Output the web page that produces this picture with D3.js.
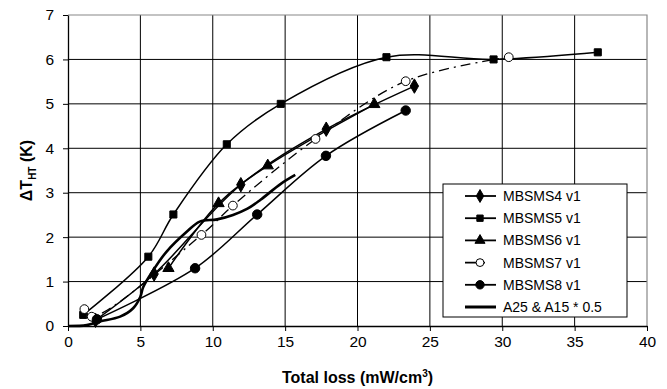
<!DOCTYPE html>
<html>
<head>
<meta charset="utf-8">
<script src="https://cdn.jsdelivr.net/npm/d3@7"></script>
<style>
  body { margin: 0; background: #fff; }
  text { font-family: Arial, "Liberation Sans", sans-serif; }
</style>
</head>
<body>
<div id="chart"></div>
<script>
'use strict';

// tick values
var xTicks = [0, 5, 10, 15, 20, 25, 30, 35, 40];
var yTicks = [0, 1, 2, 3, 4, 5, 6, 7];

// series
var ms4X = [1.9, 5.95, 11.94, 17.84, 23.93];
var ms4Y = [0.13, 1.17, 3.18, 4.43, 5.40];

var ms5X = [1.05, 5.55, 7.28, 10.97, 14.7, 22.0, 29.4, 36.6];
var ms5Y = [0.25, 1.56, 2.51, 4.09, 5.0, 6.05, 6.0, 6.16];

var ms6X = [6.94, 10.4, 13.8, 21.16];
var ms6Y = [1.30, 2.76, 3.61, 4.99];

var ms7X = [1.13, 1.64, 9.22, 11.39, 17.1, 23.33, 30.45];
var ms7Y = [0.38, 0.21, 2.05, 2.71, 4.21, 5.51, 6.05];

var ms8X = [2.0, 8.78, 13.07, 17.82, 23.33];
var ms8Y = [0.15, 1.30, 2.51, 3.83, 4.85];

var aX = [0, 1.3, 2.2, 3.6, 4.5, 5.0, 5.2, 5.9, 6.8, 8.2, 9.1, 10.3, 11.4, 12.4, 13.3, 14.7, 15.7];
var aY = [0, 0.02, 0.1, 0.21, 0.40, 0.66, 0.88, 1.26, 1.67, 2.12, 2.35, 2.40, 2.50, 2.64, 2.84, 3.2, 3.40];

var seriesNames = ['MBSMS4 v1', 'MBSMS5 v1', 'MBSMS6 v1', 'MBSMS7 v1', 'MBSMS8 v1', 'A25 & A15 * 0.5'];

function zip(xs, ys){
  return xs.map(function(x, i){ return {x: x, y: ys[i]}; });
}

var series = [
  {name: seriesNames[0], data: zip(ms4X, ms4Y), symbol: d3.symbolDiamond, size: 60, fill: '#000', dash: null, width: 1.5},
  {name: seriesNames[1], data: zip(ms5X, ms5Y), symbol: d3.symbolSquare, size: 50, fill: '#000', dash: null, width: 1.5},
  {name: seriesNames[2], data: zip(ms6X, ms6Y), symbol: d3.symbolTriangle, size: 55, fill: '#000', dash: null, width: 1.5},
  {name: seriesNames[3], data: zip(ms7X, ms7Y), symbol: d3.symbolCircle, size: 60, fill: '#fff', dash: '10,5,2,5', width: 1.3},
  {name: seriesNames[4], data: zip(ms8X, ms8Y), symbol: d3.symbolCircle, size: 70, fill: '#000', dash: null, width: 1.5},
  {name: seriesNames[5], data: zip(aX, aY), symbol: null, size: 0, fill: null, dash: null, width: 2.6}
];

// layout
var outerWidth = 667;
var outerHeight = 389;
var plotLeft = 68, plotRight = 647, plotTop = 15, plotBottom = 326;

var svg = d3.select('#chart').append('svg')
  .attr('width', outerWidth)
  .attr('height', outerHeight);

var xScale = d3.scaleLinear()
  .domain([0, 40])
  .range([plotLeft, plotRight]);

var yScale = d3.scaleLinear()
  .domain([0, 7])
  .range([plotBottom, plotTop]);

// grid
svg.selectAll('.vgrid')
    .data(xTicks.slice(1, -1))
  .enter().append('line')
    .attr('class', 'vgrid')
    .attr('x1', function(d){ return xScale(d); })
    .attr('x2', function(d){ return xScale(d); })
    .attr('y1', plotTop)
    .attr('y2', plotBottom)
    .attr('stroke', '#000')
    .attr('stroke-width', 1);

svg.selectAll('.hgrid')
    .data(yTicks.slice(1, -1))
  .enter().append('line')
    .attr('class', 'hgrid')
    .attr('x1', plotLeft)
    .attr('x2', plotRight)
    .attr('y1', function(d){ return yScale(d); })
    .attr('y2', function(d){ return yScale(d); })
    .attr('stroke', '#000')
    .attr('stroke-width', 1);

// gray top and right border
svg.append('path')
  .attr('d', 'M' + plotLeft + ',' + yScale(7) + 'H' + plotRight + 'V' + plotBottom)
  .attr('fill', 'none')
  .attr('stroke', '#888')
  .attr('stroke-width', 1.2);

// axes
var xAxis = svg.append('g')
  .attr('transform', 'translate(0,' + plotBottom + ')')
  .call(d3.axisBottom(xScale).tickValues(xTicks).tickFormat(d3.format('d'))
    .tickSize(5).tickSizeOuter(0).tickPadding(5));

var yAxis = svg.append('g')
  .attr('transform', 'translate(' + plotLeft + ',0)')
  .call(d3.axisLeft(yScale).tickValues(yTicks).tickFormat(d3.format('d'))
    .tickSize(5).tickSizeOuter(0).tickPadding(9));

[xAxis, yAxis].forEach(function(a){
  a.select('.domain').attr('stroke', '#000').attr('stroke-width', 1.3);
  a.selectAll('.tick line').attr('stroke', '#000');
  a.selectAll('.tick text')
    .attr('fill', '#000')
    .style('font-family', 'Arial, "Liberation Sans", sans-serif')
    .style('font-size', '15.5px');
});

// series lines
var line = d3.line()
  .x(function(d){ return xScale(d.x); })
  .y(function(d){ return yScale(d.y); })
  .curve(d3.curveCatmullRom.alpha(0.5));

series.forEach(function(s){
  svg.append('path')
    .datum(s.data)
    .attr('d', line)
    .attr('fill', 'none')
    .attr('stroke', '#000')
    .attr('stroke-width', s.width)
    .attr('stroke-dasharray', s.dash);

  if(s.symbol){
    svg.selectAll(null)
        .data(s.data)
      .enter().append('path')
        .attr('d', d3.symbol().type(s.symbol).size(s.size))
        .attr('transform', function(d){ return 'translate(' + xScale(d.x) + ',' + yScale(d.y) + ')'; })
        .attr('fill', s.fill)
        .attr('stroke', '#000')
        .attr('stroke-width', 1);
  }
});

// axis titles
svg.append('text')
  .attr('x', (plotLeft + plotRight) / 2)
  .attr('y', 383)
  .attr('text-anchor', 'middle')
  .style('font-size', '16px')
  .style('font-weight', 'bold')
  .html('Total loss (mW/cm<tspan dy="-6" font-size="10px">3</tspan><tspan dy="6">)</tspan>');

svg.append('text')
  .attr('transform', 'translate(32,' + ((plotTop + plotBottom) / 2) + ') rotate(-90)')
  .attr('text-anchor', 'middle')
  .style('font-size', '16px')
  .style('font-weight', 'bold')
  .html('ΔT<tspan dy="4" font-size="10px">HT</tspan><tspan dy="-4"> (K)</tspan>');

// legend
var legend = svg.append('g')
  .attr('transform', 'translate(443,184)');

legend.append('rect')
  .attr('width', 184)
  .attr('height', 133)
  .attr('fill', '#fff')
  .attr('stroke', '#000')
  .attr('stroke-width', 1);

var rows = legend.selectAll('.row')
    .data(series)
  .enter().append('g')
    .attr('class', 'row')
    .attr('transform', function(d, i){ return 'translate(0,' + (12 + i * 22.2) + ')'; });

rows.append('line')
  .attr('x1', 22)
  .attr('x2', 53)
  .attr('stroke', '#000')
  .attr('stroke-width', function(d){ return d.symbol ? 1.8 : 3; })
  .attr('stroke-dasharray', function(d){ return d.dash ? '13,5,2,20' : null; });

rows.filter(function(d){ return d.symbol; })
  .append('path')
    .attr('d', function(d){ return d3.symbol().type(d.symbol).size(d.size * 0.8)(); })
    .attr('transform', 'translate(37,0)')
    .attr('fill', function(d){ return d.fill; })
    .attr('stroke', '#000');

rows.append('text')
  .attr('x', 60)
  .attr('dy', '0.35em')
  .style('font-size', '14px')
  .text(function(d){ return d.name; });
</script>
</body>
</html>
